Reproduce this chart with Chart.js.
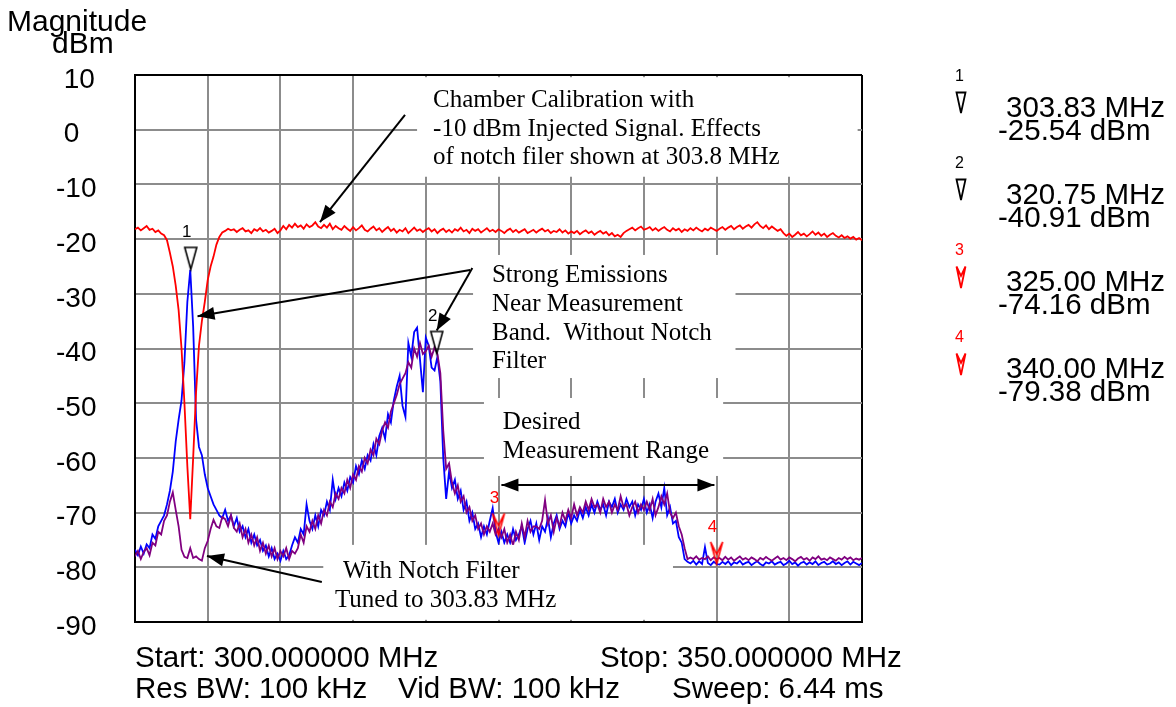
<!DOCTYPE html>
<html>
<head>
<meta charset="utf-8">
<script src="https://cdn.jsdelivr.net/npm/chart.js@4.4.1/dist/chart.umd.min.js"></script>
<style>
  body { margin: 0; background: #fff; }
  #wrap { position: relative; width: 1176px; height: 707px; overflow: hidden; }
  #wrap canvas { position: absolute; left: 0; top: 0; }
  .t { position: absolute; white-space: pre; line-height: 1; color: #000;
       font-family: "Liberation Sans", Arial, sans-serif; }
</style>
</head>
<body>
<div id="wrap">
  <canvas id="spectrum" width="1176" height="707"></canvas>
  <div class="t" style="left:7px;top:6px;font-size:30px">Magnitude</div>
  <div class="t" style="left:52px;top:28px;font-size:30px">dBm</div>
  <div class="t" style="left:135px;top:642px;font-size:29.5px">Start: 300.000000 MHz</div>
  <div class="t" style="left:600px;top:642px;font-size:29.5px">Stop: 350.000000 MHz</div>
  <div class="t" style="left:135px;top:673px;font-size:29.5px">Res BW: 100 kHz</div>
  <div class="t" style="left:398px;top:673px;font-size:29.5px">Vid BW: 100 kHz</div>
  <div class="t" style="left:672px;top:673px;font-size:29.5px">Sweep: 6.44 ms</div>
  <div id="markerTable"></div>
</div>
<script>
(function () {
  "use strict";

  // sweep: 300 - 350 MHz, 251 trace points
  const sweepStart = 300;
  const sweepStop = 350;
  const sweepPoints = 251;
  const yTicks = [10, 0, -10, -20, -30, -40, -50, -60, -70, -80, -90];

  // chamber calibration, -10 dBm injected (red)
  const calibration = [
    -18.2, -17.9, -18.4, -18.0, -17.6, -18.3, -18.1, -18.7, -18.4, -19.0,
    -19.3, -20.2, -22.5, -25.0, -28.5, -33.0, -40.0, -50.0, -61.5, -71.2,
    -60.0, -48.0, -39.5, -35.0, -31.5, -27.5, -25.0, -23.2, -21.0, -19.6, -18.8,
    -18.5, -18.1, -18.4, -18.2, -18.7, -18.3, -18.0, -18.6, -18.4, -18.9,
    -18.2, -18.5, -18.0, -18.6, -18.3, -18.8, -18.5, -18.1, -18.9, -18.4,
    -17.6, -18.2, -17.4, -17.9, -17.2, -17.8, -17.5, -18.1, -17.3, -17.8,
    -17.5, -16.9, -17.7, -18.0, -17.4, -17.9, -17.2, -18.2, -17.6, -18.0,
    -18.3, -17.6, -18.1, -18.5, -17.8, -18.4, -18.0, -17.5, -18.3, -18.6,
    -18.1, -17.7, -18.4, -18.0, -18.7, -18.2, -17.8, -18.5, -18.1, -18.8,
    -18.3, -18.6, -18.0, -18.9, -18.4, -17.9, -18.5, -18.2, -18.7, -18.3,
    -18.0, -18.6, -18.2, -18.9, -18.4, -18.1, -18.7, -18.3, -18.8, -18.2,
    -18.5, -17.9, -18.6, -18.3, -18.9, -18.1, -18.5, -18.2, -18.8, -18.4,
    -18.0, -18.6, -18.3, -18.7, -18.2, -18.5, -18.9, -18.4, -18.1, -18.7,
    -18.3, -18.8, -18.5, -18.2, -18.9, -18.6, -18.3, -18.8, -18.4, -18.1,
    -18.6, -18.3, -18.9, -18.5, -18.7, -18.2, -18.8, -18.4, -19.0, -18.6,
    -18.9, -18.5, -19.1, -18.7, -18.4, -18.9, -18.6, -19.2, -18.8, -18.5,
    -19.0, -18.7, -19.3, -18.9, -19.5, -19.2, -19.6, -18.9, -18.5, -18.2,
    -17.9, -18.4, -18.0, -17.7, -18.3, -18.1, -17.8, -18.4, -18.0, -18.5,
    -18.1, -17.8, -18.3, -18.6, -18.0, -18.4, -18.1, -18.7, -18.2, -18.5,
    -18.0, -18.4, -17.9, -18.3, -18.6, -18.1, -18.4, -17.9, -18.2, -18.5,
    -18.1, -17.8, -18.3, -17.9, -17.6, -18.2, -17.8, -17.5, -18.1, -17.7,
    -17.4, -17.9, -17.3, -16.9, -17.6, -18.0, -17.5, -18.2, -17.7, -18.1,
    -18.5, -18.2, -18.9, -19.4, -19.0, -19.6, -19.2, -18.7, -19.3, -19.0,
    -19.5, -19.1, -18.6, -19.2, -18.8, -19.4, -19.0, -19.6, -19.2, -18.9,
    -19.4, -19.7, -19.3, -19.8, -19.5, -19.9, -19.6, -20.1, -19.8, -20.2
  ];

  // emissions without notch filter (blue)
  const withoutNotch = [
    -76.8, -77.8, -76.2, -77.5, -75.8, -76.5, -74.0, -74.8, -72.5, -71.5,
    -70.5, -68.5, -66.0, -62.5, -57.0, -53.0, -49.5, -42.5, -31.5, -25.6,
    -36.0, -53.0, -58.0, -59.5, -63.0, -65.5, -67.0, -68.5, -69.5, -70.5,
    -71.0, -69.5, -71.5, -70.5, -72.5, -71.0, -73.5, -72.5, -74.5, -73.0,
    -75.5, -74.0, -76.0, -75.0, -77.0, -76.0, -78.0, -76.5, -78.5, -77.5,
    -78.8, -77.0, -78.5, -77.8, -76.0, -74.5, -75.5, -73.0, -74.0, -68.5,
    -71.5, -73.0, -70.5, -72.5, -69.5, -70.5, -68.0, -69.5, -64.0, -67.5,
    -65.5, -67.0, -64.5, -66.0, -63.5, -64.5, -61.5, -63.0, -60.5, -62.0,
    -59.5, -60.5, -57.5, -59.5, -56.0, -54.5, -56.5, -52.0, -53.5, -49.5,
    -47.0, -45.0, -50.5, -52.5, -39.0, -41.5, -37.0, -36.2, -42.0, -48.0,
    -38.0, -39.5, -43.5, -44.0, -41.5, -46.0, -60.0, -67.5, -62.5, -65.5,
    -64.0, -67.5, -66.0, -69.5, -68.0, -71.5, -70.0, -73.0, -72.0, -74.5,
    -72.5, -74.0, -71.5, -69.2, -73.5, -75.5, -73.5, -75.5, -74.0, -75.5,
    -73.0, -75.0, -74.0, -72.5, -75.5, -73.0, -71.5, -74.0, -72.0, -75.0,
    -72.5, -73.5, -71.0, -74.5, -72.0, -70.5, -73.0, -71.5, -72.5, -70.0,
    -72.0, -70.5, -71.5, -69.5, -71.0, -69.0, -70.5, -68.5, -70.0, -68.0,
    -69.5, -68.5, -70.5, -68.0, -69.0, -67.5, -70.0, -68.5, -69.5, -67.5,
    -69.0, -68.0, -70.5, -68.5, -69.5, -67.5, -70.0, -68.5, -71.0, -68.0,
    -66.5, -69.0, -65.5, -70.5, -69.0, -72.0, -71.5, -74.5, -75.5, -78.5,
    -79.0, -79.3, -78.8, -79.5, -78.9, -79.4, -76.3, -79.2, -79.6, -79.0,
    -79.4,
    -79.5, -79.0, -79.4, -78.9, -79.6, -79.1, -79.3, -78.8, -79.5, -79.2,
    -79.0, -79.6, -79.2, -78.9, -79.4, -79.7, -79.1, -79.3, -78.9, -79.5,
    -79.2, -79.0, -79.6, -79.3, -78.8, -79.4, -79.1, -79.7, -79.2, -79.0,
    -79.5, -79.1, -79.4, -78.9, -79.6, -79.2, -79.0, -79.5, -79.3, -78.9,
    -79.4, -79.1, -79.6, -79.2, -78.9, -79.5, -79.0, -79.3, -79.6, -79.2
  ];

  // with notch filter tuned to 303.83 MHz (purple)
  const withNotch = [
    -78.0, -77.0, -78.5, -77.2, -76.5, -77.8, -75.5, -76.0, -73.5, -74.0,
    -71.5, -70.5, -68.0, -66.3, -69.5, -72.5, -76.8, -78.1, -78.3, -76.5,
    -78.3, -78.0, -78.5, -78.8, -76.5, -75.2, -73.0, -71.3, -72.5, -72.8,
    -70.8, -71.2, -72.5, -70.5, -72.8, -73.5, -72.0, -74.5, -73.0, -75.5,
    -74.0, -76.0, -74.5, -77.0, -75.5, -77.5, -76.0, -78.0, -76.5, -78.5,
    -77.0, -78.0, -76.5, -78.5, -77.0, -77.5, -76.5, -74.0, -75.5, -72.5,
    -73.5, -71.5, -73.0, -70.5, -72.0, -69.5, -70.5, -68.0, -69.0, -66.5,
    -67.5, -65.5, -66.5, -64.0, -65.5, -63.0, -64.0, -61.5, -62.5, -60.0,
    -61.0, -58.5, -59.5, -56.5, -57.5, -55.0, -53.5, -54.5, -51.5, -50.0,
    -48.5, -46.5, -45.5, -44.5, -42.5, -43.5, -40.0, -41.5, -39.0, -41.0,
    -40.5, -39.5, -41.5, -39.8, -41.0, -44.5, -55.0, -62.0, -61.0, -64.5,
    -66.5, -65.0, -68.0, -67.0, -70.0, -69.0, -71.5, -70.5, -73.0, -72.0,
    -74.0, -72.5, -73.5, -72.0, -74.0, -73.0, -74.5, -73.0, -75.5, -74.0,
    -76.0, -73.5, -75.0, -72.0, -74.5, -71.5, -73.5, -72.5, -72.5, -73.0,
    -71.5, -67.7, -72.0, -70.5, -73.5, -71.0, -72.5, -70.0, -71.5, -69.5,
    -71.0, -68.5, -70.5, -69.0, -70.0, -68.0, -69.5, -67.5, -69.0, -68.5,
    -70.0, -67.5, -69.0, -68.0, -70.0, -68.5, -69.5, -67.0, -69.0, -68.5,
    -70.5, -69.0, -68.0, -70.0, -68.5, -69.5, -68.0, -69.5, -67.5, -70.5,
    -69.0, -67.0, -68.5, -66.5, -70.0, -71.0, -70.0, -72.5, -74.0, -76.5,
    -78.5, -78.2, -78.5, -78.0, -78.6, -78.3, -78.5, -78.0, -78.7, -78.2,
    -78.5,
    -78.3, -78.7, -78.1, -78.6, -78.2, -78.8, -78.4, -78.0, -78.6, -78.3,
    -78.7, -78.2, -78.5, -78.9, -78.3, -78.6, -78.1, -78.5, -78.8, -78.4,
    -78.0, -78.6, -78.3, -78.7, -78.2, -78.5, -78.9, -78.4, -78.1, -78.6,
    -78.3, -78.8, -78.2, -78.5, -78.0, -78.6, -78.4, -78.7, -78.2, -78.5,
    -78.8, -78.3, -78.6, -78.1, -78.5, -78.2, -78.7, -78.4, -78.6, -78.3
  ];

  // markers
  const markerFreq = [303.83, 320.75, 325.0, 340.0];
  const markerLevel = [-25.54, -40.91, -74.16, -79.38];
  const markerName = ["1", "2", "3", "4"];
  const markerColor = ["#000000", "#000000", "#ff0000", "#ff0000"];
  const markerKind = ["delta", "delta", "arrow", "arrow"];

  const GRID = "#8c8c8c";
  const SANS = '"Liberation Sans", Arial, sans-serif';
  const SERIF = '"Liberation Serif", "Times New Roman", serif';

  const step = (sweepStop - sweepStart) / (sweepPoints - 1);
  const freq = Array.from({ length: sweepPoints }, (_, i) => sweepStart + i * step);
  const toXY = (vals) => vals.map((v, i) => ({ x: freq[i], y: v }));

  // marker symbol, tip of the symbol sits on the canvas centre
  function markerImage(color, kind, w, h) {
    const c = document.createElement("canvas");
    c.width = w + 4;
    c.height = h * 2 + 4;
    const g = c.getContext("2d");
    const cx = c.width / 2, tip = c.height / 2;
    g.strokeStyle = color;
    g.lineWidth = 1.6;
    g.lineJoin = "miter";
    g.beginPath();
    if (kind === "delta") {
      g.moveTo(cx - w / 2, tip - h);
      g.lineTo(cx + w / 2, tip - h);
      g.lineTo(cx, tip);
      g.closePath();
    } else {
      g.moveTo(cx, tip);
      g.lineTo(cx - w / 2, tip - h);
      g.lineTo(cx, tip - h * 0.45);
      g.lineTo(cx + w / 2, tip - h);
      g.closePath();
    }
    g.stroke();
    return c;
  }
  const markerImgs = markerKind.map((k, i) => markerImage(markerColor[i], k, 12, 22));

  // annotation boxes (MHz / dBm), text is Times-like
  const notes = [
    { box: [319.4, 349.7, 9.6, -8.6], at: [320.5, 4.2],
      lines: ["Chamber Calibration with", "-10 dBm Injected Signal. Effects", "of notch filer shown at 303.8 MHz"] },
    { box: [323.25, 341.3, -22.9, -45.4], at: [324.55, -27.85],
      lines: ["Strong Emissions", "Near Measurement", "Band.  Without Notch", "Filter"] },
    { box: [324.0, 340.45, -49.05, -63.3], at: [325.3, -54.7],
      lines: ["Desired", "Measurement Range"] },
    { box: [312.95, 337.0, -75.9, -89.6], at: [314.3, -81.95],
      lines: ["With Notch Filter", "Tuned to 303.83 MHz"], dx: [0, -0.55] }
  ];
  const arrows = [
    [318.57, 2.7, 312.72, -16.9, false],
    [323.05, -25.65, 304.3, -34.1, false],
    [323.2, -25.3, 320.75, -36.7, false],
    [325.2, -64.95, 339.85, -64.95, true],
    [312.85, -82.7, 304.95, -77.95, false]
  ];

  function head(ctx, x1, y1, x2, y2) {
    const a = Math.atan2(y2 - y1, x2 - x1);
    const L = 17, W = 6.5;
    ctx.beginPath();
    ctx.moveTo(x2, y2);
    ctx.lineTo(x2 - L * Math.cos(a) + W * Math.sin(a), y2 - L * Math.sin(a) - W * Math.cos(a));
    ctx.lineTo(x2 - L * Math.cos(a) - W * Math.sin(a), y2 - L * Math.sin(a) + W * Math.cos(a));
    ctx.closePath();
    ctx.fill();
  }

  const notesPlugin = {
    id: "notes",
    afterDatasetsDraw(chart) {
      const { ctx, scales: { x, y } } = chart;
      ctx.save();
      notes.forEach((n) => {
        const l = x.getPixelForValue(n.box[0]), r = x.getPixelForValue(n.box[1]);
        const t = y.getPixelForValue(n.box[2]), b = y.getPixelForValue(n.box[3]);
        ctx.fillStyle = "#fff";
        ctx.fillRect(l, t, r - l, b - t);
      });
      ctx.fillStyle = "#000";
      ctx.font = "25px " + SERIF;
      ctx.textAlign = "left";
      ctx.textBaseline = "alphabetic";
      notes.forEach((n) => {
        const px = x.getPixelForValue(n.at[0]);
        const py = y.getPixelForValue(n.at[1]);
        n.lines.forEach((s, k) => {
          const off = n.dx ? (x.getPixelForValue(n.at[0] + n.dx[k]) - px) : 0;
          ctx.fillText(s, px + off, py + k * 28.8);
        });
      });
      ctx.strokeStyle = "#000";
      ctx.lineWidth = 2;
      arrows.forEach((a) => {
        const x1 = x.getPixelForValue(a[0]), y1 = y.getPixelForValue(a[1]);
        const x2 = x.getPixelForValue(a[2]), y2 = y.getPixelForValue(a[3]);
        ctx.beginPath();
        ctx.moveTo(x1, y1);
        ctx.lineTo(x2, y2);
        ctx.stroke();
        head(ctx, x1, y1, x2, y2);
        if (a[4]) head(ctx, x2, y2, x1, y1);
      });
      // marker numbers above the symbols
      ctx.font = "17px " + SANS;
      ctx.textAlign = "center";
      markerFreq.forEach((f, i) => {
        ctx.fillStyle = markerColor[i];
        ctx.fillText(markerName[i], x.getPixelForValue(f) - 4, y.getPixelForValue(markerLevel[i]) - 32);
      });
      ctx.restore();
    }
  };

  const edgeColor = (edges) => (c) => (c.tick && edges.includes(c.tick.value) ? "#000" : GRID);

  new Chart(document.getElementById("spectrum"), {
    type: "line",
    data: {
      datasets: [
        {
          label: "Markers",
          data: markerFreq.map((f, i) => ({ x: f, y: markerLevel[i] })),
          showLine: false,
          pointStyle: markerImgs,
          pointRadius: 4,
          order: 0
        },
        {
          label: "Chamber calibration",
          data: toXY(calibration),
          borderColor: "#ff0000",
          borderWidth: 1.8,
          pointRadius: 0,
          tension: 0,
          order: 1
        },
        {
          label: "With notch filter",
          data: toXY(withNotch),
          borderColor: "#800080",
          borderWidth: 1.8,
          pointRadius: 0,
          tension: 0,
          order: 2
        },
        {
          label: "Without notch filter",
          data: toXY(withoutNotch),
          borderColor: "#0000ff",
          borderWidth: 1.8,
          pointRadius: 0,
          tension: 0,
          order: 3
        }
      ]
    },
    options: {
      responsive: false,
      animation: false,
      layout: { padding: { left: 56, right: 314, top: 75, bottom: 85 } },
      plugins: { legend: { display: false }, tooltip: { enabled: false } },
      scales: {
        x: {
          type: "linear",
          min: sweepStart,
          max: sweepStop,
          ticks: { stepSize: 5, display: false },
          grid: { color: edgeColor([sweepStart, sweepStop]), lineWidth: 2, drawTicks: false },
          border: { color: "#000", width: 2 },
          afterFit(s) { s.height = 0; }
        },
        y: {
          min: yTicks[yTicks.length - 1],
          max: yTicks[0],
          afterBuildTicks(s) { s.ticks = yTicks.map((v) => ({ value: v })); },
          ticks: {
            color: "#000",
            font: { family: SANS, size: 28 },
            crossAlign: "far",
            padding: 0,
            labelOffset: 5,
            callback: (v) => (v >= 0 ? " " + v : String(v))
          },
          grid: { color: edgeColor([yTicks[0], yTicks[yTicks.length - 1]]), lineWidth: 2, drawTicks: false },
          border: { color: "#000", width: 2 },
          afterFit(s) { s.width = 79; }
        }
      }
    },
    plugins: [notesPlugin]
  });

  // marker readout on the right
  const table = document.getElementById("markerTable");
  const svgShape = (kind, color) => {
    const pts = kind === "delta" ? "1.5,1.5 10.5,1.5 6,22" : "6,23 1.5,1.5 6,11 10.5,1.5";
    return '<svg width="12" height="25" viewBox="0 0 12 25" style="position:absolute;left:955px;top:0">' +
      '<polygon points="' + pts + '" fill="none" stroke="' + color + '" stroke-width="1.8"/></svg>';
  };
  markerFreq.forEach((f, i) => {
    const dy = i * 87;
    const g = document.createElement("div");
    g.innerHTML =
      '<div class="t" style="left:955px;top:' + (68 + dy) + 'px;font-size:16px;color:' + markerColor[i] + '">' + markerName[i] + "</div>" +
      '<div style="position:absolute;left:0;top:' + (91 + dy) + 'px">' + svgShape(markerKind[i], markerColor[i]) + "</div>" +
      '<div class="t" style="left:1006px;top:' + (92 + dy) + 'px;font-size:29.5px">' + f.toFixed(2) + " MHz</div>" +
      '<div class="t" style="left:998px;top:' + (115 + dy) + 'px;font-size:29.5px">' + markerLevel[i].toFixed(2) + " dBm</div>";
    table.appendChild(g);
  });
})();
</script>
</body>
</html>
